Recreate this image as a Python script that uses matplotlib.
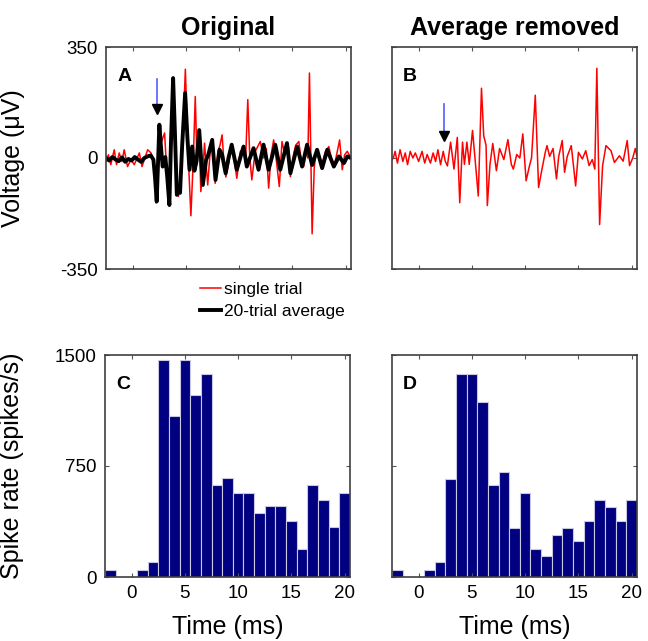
import matplotlib
matplotlib.use("Agg")
import matplotlib.pyplot as plt

plt.rcParams['font.family'] = ['Liberation Sans', 'DejaVu Sans']
plt.rcParams['axes.unicode_minus'] = False

# time axis of the PSTH bins (ms) and spike rates (spikes/s)
bin_centers = list(range(-2, 21))
rate_original = [50, 0, 0, 50, 100, 1465, 1090, 1465, 1230, 1375, 620, 670, 565, 565,
                 430, 480, 480, 380, 190, 620, 520, 335, 565]
rate_removed = [50, 0, 0, 50, 100, 665, 1375, 1375, 1185, 620, 710, 330, 565, 190,
                145, 285, 330, 240, 380, 520, 475, 380, 520]

# single trial (red) - panel A
trial_t = [-2.5, -2.27, -2.05, -1.73, -1.51, -1.26, -1.01, -0.79, -0.48, -0.16, 0.15, 0.63,
           0.88, 1.10, 1.41, 1.73, 2.04, 2.2, 2.4, 2.55, 2.7, 3.0, 3.2, 3.45, 3.65, 3.8,
           3.97, 4.15, 4.3, 4.5, 4.75, 4.95, 5.2, 5.47, 5.7, 5.88, 6.05, 6.25, 6.4, 6.6,
           6.75, 7.05, 7.3, 7.5, 7.75, 8.0, 8.2, 8.4, 8.6, 8.75, 9.0, 9.2, 9.4, 9.78,
           10.1, 10.4, 10.6, 10.81, 11.0, 11.19, 11.5, 11.98, 12.3, 12.55, 12.77, 13.0,
           13.24, 13.5, 13.77, 14.02, 14.3, 14.65, 14.81, 15.1, 15.3, 15.6, 15.8, 16.06,
           16.3, 16.45, 16.6, 16.85, 17.05, 17.23, 17.5, 17.8, 18.1, 18.42, 18.65, 18.9,
           19.15, 19.43, 19.68, 19.9, 20.15, 20.5]
trial_v = [-11, 10, -21, 26, -21, 16, -11, 26, -27, -5, -21, 16, -27, -5, 26, 16, -27,
           -142, 20, 90, 50, 79, -40, -152, 60, 230, 50, -100, -121, -60, 100, 280, 20,
           -182, 0, 194, -20, 70, -106, -40, 47, -85, 30, 60, -80, 20, 40, 73, -30, -60,
           -20, 20, 30, -64, 20, 30, -10, 184, 0, -69, 20, 52, 0, 30, -95, 10, 57, -10,
           -90, 52, 10, 31, -59, 10, 40, 52, 0, -27, 20, 0, 268, -239, -30, 26, 5, -16,
           20, 36, 0, -27, 10, 57, -37, 10, 21, 0]

# 20-trial average (black) - panel A
avg_t = [-2.5, -2.2, -1.9, -1.6, -1.3, -1.0, -0.7, -0.4, -0.1, 0.2, 0.5, 0.8, 1.1, 1.4,
         1.7, 1.95, 2.1, 2.26, 2.4, 2.51, 2.65, 2.82, 3.07, 3.25, 3.45, 3.6, 3.8, 3.97,
         4.15, 4.3, 4.45, 4.65, 4.93, 5.15, 5.34, 5.59, 5.8, 6.0, 6.25, 6.59, 6.9, 7.1,
         7.47, 7.78, 8.16, 8.4, 8.73, 9.0, 9.30, 9.78, 10.41, 10.72, 11.35, 11.82, 12.29,
         12.76, 13.39, 13.86, 14.49, 14.81, 15.44, 15.91, 16.38, 16.85, 17.32, 17.79,
         18.27, 18.89, 19.37, 19.84, 20.15, 20.5]
avg_v = [0, -8, 3, -5, -10, 2, -12, -3, -8, 3, -5, -12, 0, 5, 8, -5, -60, -137, 0, 105,
         40, -27, 3, -60, -148, 50, 252, 80, -116, -95, -110, 40, 205, 60, -37, 36, -40,
         -10, 88, -85, -5, 10, 57, -69, 26, 10, -48, 0, 42, -37, 36, -27, 31, -37, 42,
         -37, 42, -37, 47, -48, 36, -27, 42, -22, 26, -32, 26, -27, 5, -16, 5, 0]

# single trial with average removed - panel B
resid_t = [-2.5, -2.37, -2.21, -1.99, -1.74, -1.48, -1.26, -1.04, -0.79, -0.54, -0.31,
           0.0, 0.32, 0.57, 0.8, 1.11, 1.36, 1.59, 1.81, 2.06, 2.31, 2.5, 2.7, 3.0, 3.32,
           3.63, 3.86, 4.12, 4.3, 4.53, 4.75, 5.06, 5.38, 5.6, 5.9, 6.11, 6.33, 6.45,
           6.7, 6.96, 7.3, 7.6, 8.0, 8.38, 8.7, 8.89, 9.21, 9.5, 9.78, 10.09, 10.41,
           10.6, 10.95, 11.26, 11.58, 11.89, 12.05, 12.3, 12.62, 12.94, 13.15, 13.48,
           13.7, 13.95, 14.33, 14.74, 15.0, 15.37, 15.69, 16.0, 16.3, 16.54, 16.73,
           16.99, 17.27, 17.59, 18.06, 18.38, 18.85, 19.2, 19.58, 19.8, 20.1, 20.34, 20.5]
resid_v = [-5, 0, 21, -16, 26, -11, 16, -21, 21, 0, 16, -11, 21, -16, 11, -16, 16, -11,
           26, -21, 21, -10, -25, 50, -35, 65, -141, 50, -20, 50, -20, 87, -35, -120,
           220, 70, 40, -150, -20, 46, -40, 30, -5, 58, -20, -35, 11, 0, 76, -72, -24, 0,
           198, -93, -35, 18, 39, 5, 30, -66, 5, 55, -45, 5, 39, -88, 18, -3, 23, -24,
           -5, -35, 283, -210, -24, 39, 23, -14, 7, -10, 55, -24, 0, 30, 5]

# stimulus arrows: time, top of blue stem, top of head, middle of head
arrow_A = (2.26, 249, 165, 153)
arrow_B = (2.37, 171, 83, 70)

W, H = 648, 641
fig = plt.figure(figsize=(W / 100, H / 100), dpi=100)

def box(left, top):
    return [left / W, 1 - (top + 222) / H, 245 / W, 222 / H]

axA = fig.add_axes(box(106, 47))
axB = fig.add_axes(box(392, 47))
axC = fig.add_axes(box(105, 355))
axD = fig.add_axes(box(392, 355))

bar_col = '#000080'
for ax in (axA, axB, axC, axD):
    ax.set_xlim(-2.5, 20.5)
    ax.set_xticks([0, 5, 10, 15, 20])
    ax.tick_params(direction='in', top=True, right=True, length=3, width=0.8,
                   color='#555555', labelsize=13.5, pad=6)
    for s in ax.spines.values():
        s.set_color('#404040')
        s.set_linewidth(1.2)

for ax in (axA, axB):
    ax.set_ylim(-350, 350)
    ax.set_yticks([-350, 0, 350])
    ax.tick_params(labelbottom=False)
for ax in (axC, axD):
    ax.set_ylim(0, 1500)
    ax.set_yticks([0, 750, 1500])
    ax.set_xlabel('Time (ms)', fontsize=18)
    ax.xaxis.set_label_coords(0.5, -0.17)
axB.tick_params(labelleft=False)
axD.tick_params(labelleft=False)

l1, = axA.plot(trial_t, trial_v, color='red', lw=1.1)
l2, = axA.plot(avg_t, avg_v, color='black', lw=2.8, solid_joinstyle='round')
axB.plot(resid_t, resid_v, color='red', lw=1.1)

for ax, (t, top, head, mid) in ((axA, arrow_A), (axB, arrow_B)):
    ax.plot([t, t], [top, head], color='#5060ff', lw=1.2)
    ax.plot([t], [mid], marker='v', color='black', markersize=6.5, lw=0)

axC.bar(bin_centers, rate_original, width=1.0, color=bar_col, edgecolor='#c8c8e0', linewidth=0.8)
axD.bar(bin_centers, rate_removed, width=1.0, color=bar_col, edgecolor='#c8c8e0', linewidth=0.8)

axA.set_ylabel('Voltage (\u03bcV)', fontsize=18)
axA.yaxis.set_label_coords(-0.33, 0.5)
axC.set_ylabel('Spike rate (spikes/s)', fontsize=18)
axC.yaxis.set_label_coords(-0.33, 0.5)

axA.set_title('Original', fontsize=18, fontweight='bold', pad=8.5)
axB.set_title('Average removed', fontsize=18, fontweight='bold', pad=8.5)

for ax, letter in ((axA, 'A'), (axB, 'B'), (axC, 'C'), (axD, 'D')):
    ax.text(0.045, 0.905, letter, transform=ax.transAxes, ha='left', va='top',
            fontsize=14, fontweight='bold')

fig.legend([l1, l2], ['single trial', '20-trial average'], loc='upper left',
           bbox_to_anchor=(200 / W, 1 - 282 / H), frameon=False, fontsize=12.5,
           handlelength=1.2, handletextpad=0.2, borderpad=0, borderaxespad=0,
           labelspacing=0.4)

fig.savefig('out.png', dpi=100)
